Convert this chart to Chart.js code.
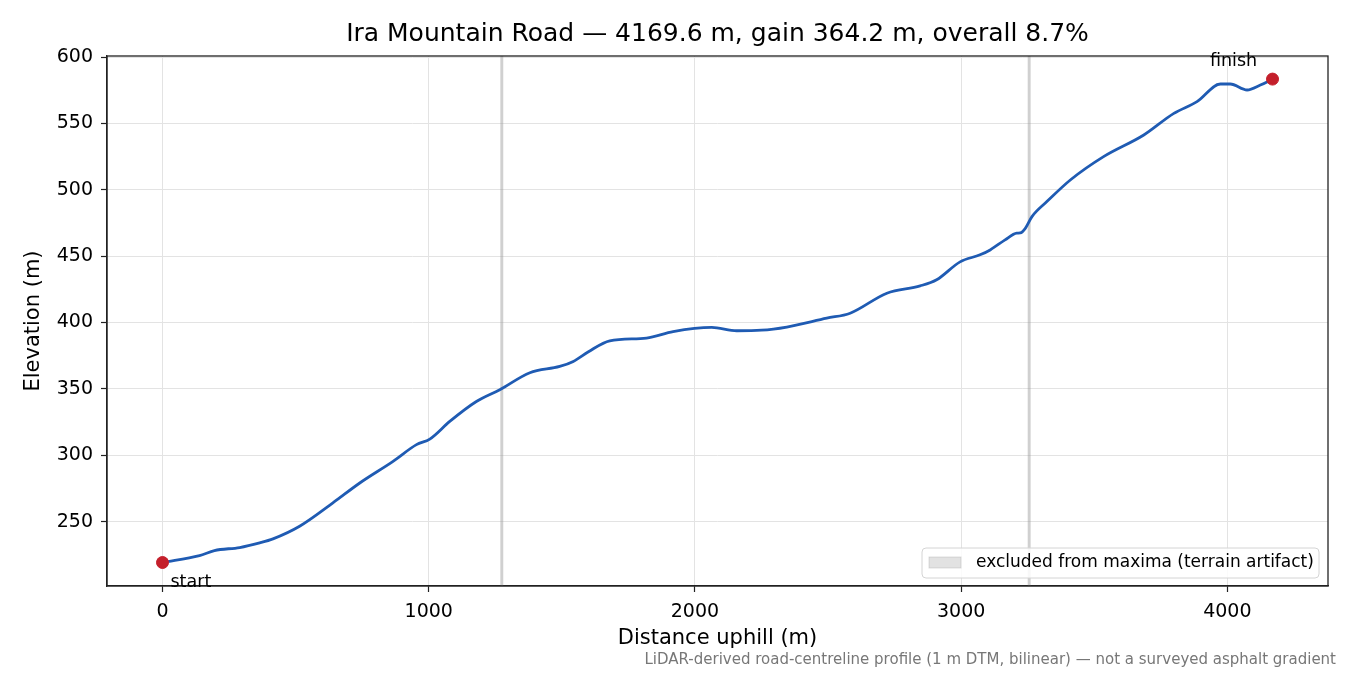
<!DOCTYPE html>
<html>
<head>
<meta charset="utf-8">
<script src="https://cdn.jsdelivr.net/npm/chart.js@4.4.1/dist/chart.umd.min.js"></script>
<style>
  html, body { margin: 0; padding: 0; background: #fff; }
  #wrap { width: 1350px; height: 675px; }
</style>
</head>
<body>
<div id="wrap"><canvas id="profileChart" width="1350" height="675"></canvas></div>
<script>
// ---------------- data ----------------
var distance = [0, 139, 195, 290, 365, 415, 515, 640, 741, 866, 954, 1004, 1079, 1179, 1267,
  1380, 1492, 1543, 1600, 1680, 1818, 1918, 2063, 2157, 2250, 2345, 2495, 2583, 2721, 2846,
  2908, 2996, 3071, 3109, 3165, 3209, 3222, 3241, 3266, 3322, 3410, 3535, 3686, 3799, 3886,
  3974, 4011, 4074, 4124, 4169.6];
var elevation = [219.2, 224.4, 228.2, 230.5, 234, 237, 246.5, 264.1, 279.1, 295.4, 308, 312.2, 325.5, 340.5, 349.4,
  362.2, 366.9, 370.7, 378, 386.2, 388.3, 393.2, 396.3, 393.8, 394.2, 396.6, 403.3, 407, 422.1, 427.6,
  432.2, 445.7, 451, 454.7, 462.3, 467.3, 467.5, 471, 479.8, 491.1, 507.4, 525, 541.3, 557.6, 566.4,
  579.7, 579.7, 575.2, 578.9, 583.4];

// excluded stretches (terrain artifact), start / end in metres
var bandStart = [1269, 3250];
var bandEnd = [1280, 3261];

var xTicks = [0, 1000, 2000, 3000, 4000];
var yTicks = [250, 300, 350, 400, 450, 500, 550, 600];

var endLabels = ['start', 'finish'];

var titleText = 'Ira Mountain Road \u2014 4169.6 m, gain 364.2 m, overall 8.7%';
var footText = 'LiDAR-derived road-centreline profile (1 m DTM, bilinear) \u2014 not a surveyed asphalt gradient';
var legendText = 'excluded from maxima (terrain artifact)';

var FONT = '"DejaVu Sans", "Liberation Sans", sans-serif';

var profile = distance.map(function (d, i) { return { x: d, y: elevation[i] }; });
var last = distance.length - 1;
var ends = [
  { x: distance[0], y: elevation[0] },
  { x: distance[last], y: elevation[last] }
];

var extras = {
  id: 'extras',
  beforeDatasetsDraw: function (chart) {
    var ctx = chart.ctx, a = chart.chartArea, xs = chart.scales.x;
    ctx.save();
    ctx.fillStyle = 'rgba(150,150,150,0.45)';
    for (var i = 0; i < bandStart.length; i++) {
      var x0 = xs.getPixelForValue(bandStart[i]);
      var x1 = xs.getPixelForValue(bandEnd[i]);
      ctx.fillRect(x0, a.top, x1 - x0, a.bottom - a.top);
    }
    ctx.restore();
  },
  afterDraw: function (chart) {
    var ctx = chart.ctx, a = chart.chartArea, xs = chart.scales.x, ys = chart.scales.y;
    ctx.save();

    // frame (top + right sides)
    ctx.strokeStyle = '#222';
    ctx.lineWidth = 1.3;
    ctx.strokeRect(a.left, a.top, a.right - a.left, a.bottom - a.top);

    // title
    ctx.fillStyle = '#000';
    ctx.font = '25px ' + FONT;
    ctx.textAlign = 'center';
    ctx.textBaseline = 'middle';
    ctx.fillText(titleText, (a.left + a.right) / 2, 34);

    // axis titles
    ctx.font = '21px ' + FONT;
    ctx.fillText('Distance uphill (m)', (a.left + a.right) / 2, 639);
    ctx.save();
    ctx.translate(34, (a.top + a.bottom) / 2);
    ctx.rotate(-Math.PI / 2);
    ctx.fillText('Elevation (m)', 0, 0);
    ctx.restore();

    // start / finish labels
    ctx.font = '17.5px ' + FONT;
    ctx.textAlign = 'left';
    ctx.fillText(endLabels[0], xs.getPixelForValue(ends[0].x) + 8, ys.getPixelForValue(ends[0].y) + 20);
    ctx.textAlign = 'center';
    ctx.fillText(endLabels[1], xs.getPixelForValue(ends[1].x) - 39, ys.getPixelForValue(ends[1].y) - 18);

    // legend
    var lx = 922, ly = 548, lw = 397, lh = 30;
    ctx.beginPath();
    ctx.roundRect(lx, ly, lw, lh, 4);
    ctx.fillStyle = 'rgba(255,255,255,0.85)';
    ctx.fill();
    ctx.strokeStyle = '#d4d4d4';
    ctx.lineWidth = 1;
    ctx.stroke();
    ctx.fillStyle = 'rgba(160,160,160,0.3)';
    ctx.fillRect(929, 557, 32, 11);
    ctx.strokeStyle = 'rgba(160,160,160,0.35)';
    ctx.strokeRect(929, 557, 32, 11);
    ctx.fillStyle = '#000';
    ctx.font = '17px ' + FONT;
    ctx.textAlign = 'left';
    ctx.fillText(legendText, 976, 563);

    // footnote
    ctx.fillStyle = '#777';
    ctx.font = '15px ' + FONT;
    ctx.textAlign = 'right';
    ctx.fillText(footText, 1336, 660);

    ctx.restore();
  }
};

function plainTick(v) { return String(v); }

function drawChart() {
  var canvas = document.getElementById('profileChart');
  return new Chart(canvas, {
    type: 'line',
    data: {
      datasets: [
        {
          label: 'profile',
          data: profile,
          borderColor: '#1f5bb3',
          borderWidth: 2.8,
          pointRadius: 0,
          fill: false,
          cubicInterpolationMode: 'monotone',
          order: 2
        },
        {
          label: 'ends',
          data: ends,
          showLine: false,
          pointRadius: 6,
          pointBackgroundColor: '#c41f2b',
          pointBorderColor: '#c41f2b',
          order: 1
        }
      ]
    },
    options: {
      responsive: false,
      animation: false,
      devicePixelRatio: 1,
      layout: { padding: { left: 0, right: 22, top: 56, bottom: 0 } },
      plugins: {
        legend: { display: false },
        title: { display: false },
        tooltip: { enabled: false }
      },
      scales: {
        x: {
          type: 'linear',
          min: -208.5,
          max: 4378,
          afterBuildTicks: function (s) { s.ticks = xTicks.map(function (v) { return { value: v }; }); },
          afterFit: function (s) { s.height = 89; },
          grid: { color: '#e3e3e3', lineWidth: 1, tickLength: 6, tickColor: '#222', tickWidth: 1.2 },
          border: { color: '#222', width: 1.3 },
          ticks: { color: '#000', font: { family: FONT, size: 19 }, padding: 9, maxRotation: 0, callback: plainTick }
        },
        y: {
          type: 'linear',
          min: 201.5,
          max: 600.8,
          afterBuildTicks: function (s) { s.ticks = yTicks.map(function (v) { return { value: v }; }); },
          afterFit: function (s) { s.width = 107; },
          grid: { color: '#e3e3e3', lineWidth: 1, tickLength: 6, tickColor: '#222', tickWidth: 1.2 },
          border: { color: '#222', width: 1.3 },
          ticks: { color: '#000', font: { family: FONT, size: 19 }, padding: 8, callback: plainTick }
        }
      }
    },
    plugins: [extras]
  });
}
drawChart();
</script>
</body>
</html>
